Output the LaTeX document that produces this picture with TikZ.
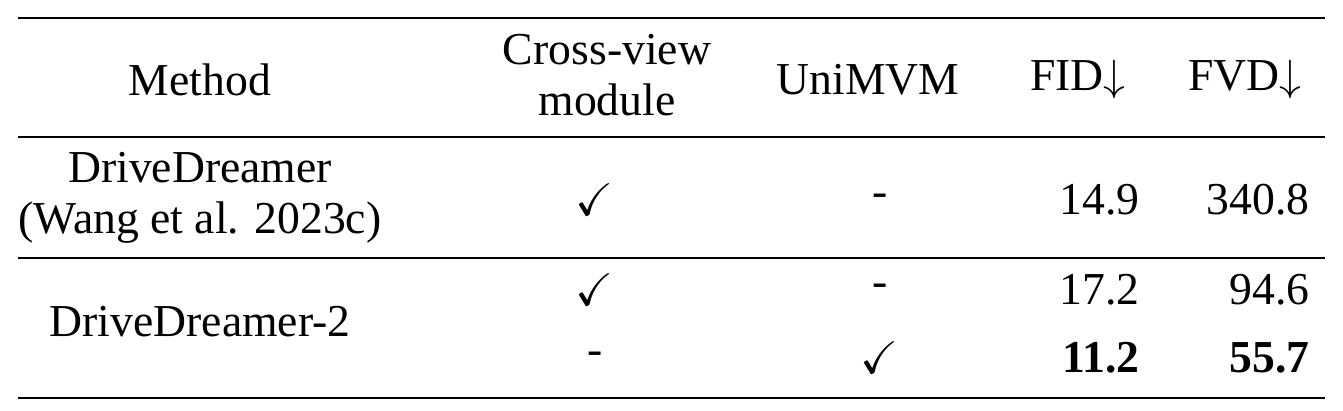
\documentclass[tikz,border=0pt]{standalone}
\usepackage{amssymb}
\usepackage{fontspec}
\setmainfont{Liberation Serif}
\usetikzlibrary{positioning}

\begin{document}
\begin{tikzpicture}[x=0.02cm,y=-0.02cm]
      \tikzstyle{cell}=[font=\fontsize{26}{29}\selectfont, inner sep=0pt, align=center]
      \tikzstyle{num}=[cell, anchor=east]
      \tikzstyle{rule}=[line width=1.6pt]
      \tikzstyle{thinrule}=[line width=0.8pt]

      \useasboundingbox (0,0) rectangle (1343,410);

      % header
      \coordinate (topL) at (18,18);
      \coordinate (topR) at (1325,18);
      \node [cell] (hMethod) at (200,80) {Method};
      \node [cell] (hCross) at (607,75) {Cross-view\\module};
      \node [cell] (hUni) at (868,80) {UniMVM};
      \node [cell] (hFID) at (1078,80) {FID$\downarrow$};
      \node [cell] (hFVD) at (1245,80) {FVD$\downarrow$};

      % DriveDreamer
      \coordinate (midL) at (18,137);
      \coordinate (midR) at (1325,137);
      \node [cell] (mDD) at (200,198) {DriveDreamer\\(Wang et al. 2023c)};
      \node [cell] (cDD) at (595,200) {$\checkmark$};
      \node [cell] (uDD) at (880,200) {-};
      \node [num] (fidDD) at (1140,200) {14.9};
      \node [num] (fvdDD) at (1310,200) {340.8};

      % DriveDreamer-2
      \coordinate (secL) at (18,258);
      \coordinate (secR) at (1325,258);
      \node [cell] (mDD2) at (200,322) {DriveDreamer-2};
      \node [cell] (cA) at (595,290) {$\checkmark$};
      \node [cell] (uA) at (880,290) {-};
      \node [num] (fidA) at (1140,290) {17.2};
      \node [num] (fvdA) at (1310,290) {94.6};
      \node [cell] (cB) at (595,358) {-};
      \node [cell] (uB) at (880,358) {$\checkmark$};
      \node [num] (fidB) at (1140,358) {\textbf{11.2}};
      \node [num] (fvdB) at (1310,358) {\textbf{55.7}};

      \coordinate (botL) at (18,398);
      \coordinate (botR) at (1325,398);

      \draw [rule] (topL) -- (topR);
      \draw [thinrule] (midL) -- (midR);
      \draw [thinrule] (secL) -- (secR);
      \draw [rule] (botL) -- (botR);
\end{tikzpicture}
\end{document}
